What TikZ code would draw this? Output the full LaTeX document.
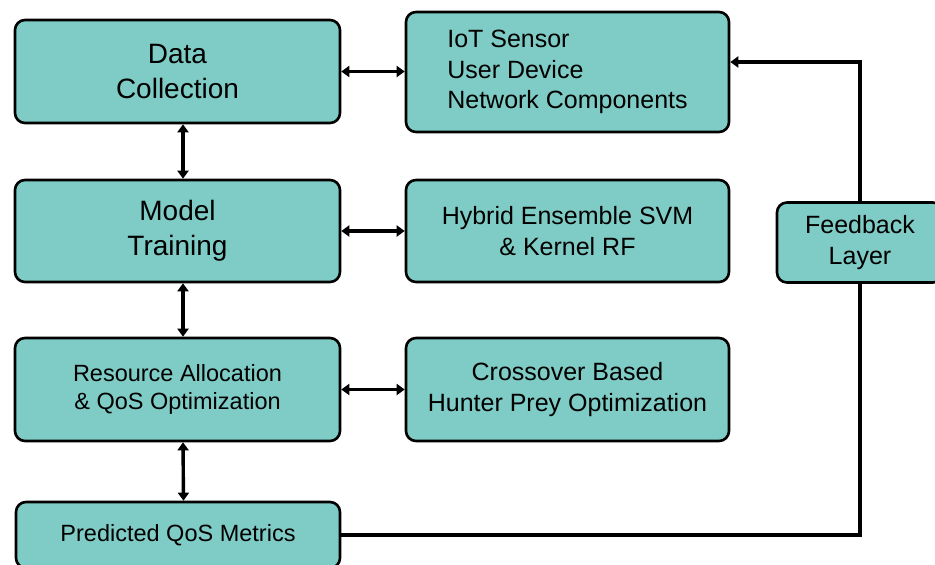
\documentclass[tikz,border=0pt]{standalone}
\usepackage{fontspec}
\setmainfont{Liberation Sans}
\usepackage{tikz}
\usetikzlibrary{arrows.meta}
\definecolor{boxteal}{RGB}{126,204,197}

\begin{document}
\begin{tikzpicture}[x=1pt,y=-1pt,line width=2.6pt]
   \useasboundingbox (0,0) rectangle (935,565);
   \tikzstyle{main}=[rectangle, rounded corners=10pt, draw=black, fill=boxteal, align=center, inner sep=0pt]
   \tikzstyle{big}=[font=\fontsize{28}{35}\selectfont]
   \tikzstyle{mid}=[font=\fontsize{25}{30.5}\selectfont]
   \tikzstyle{small}=[font=\fontsize{23.5}{28}\selectfont]
   \node[main,big,minimum width=325pt,minimum height=103pt] (collect) at (177.5,71.5) {Data\\Collection};
   \node[main,big,minimum width=325pt,minimum height=102pt] (train) at (177.5,231) {Model\\Training};
   \node[main,small,minimum width=325pt,minimum height=103pt] (alloc) at (177.5,389.5) {Resource Allocation\\\& QoS Optimization};
   \node[main,small,minimum width=324pt,minimum height=66pt] (predict) at (178,535) {Predicted QoS Metrics};
   \node[main,mid,align=left,minimum width=323pt,minimum height=120pt] (sources) at (567.5,72) {IoT Sensor\\User Device\\Network Components};
   \node[main,mid,minimum width=323pt,minimum height=102pt] (ensemble) at (567.5,231) {Hybrid Ensemble SVM\\\& Kernel RF};
   \node[main,mid,minimum width=323pt,minimum height=103pt] (hpo) at (567.5,389.5) {Crossover Based\\Hunter Prey Optimization};
   \node[main,mid,minimum width=166pt,minimum height=80pt] (feedback) at (860,242.5) {Feedback\\Layer};
   \tikzstyle{link}=[line width=3.4pt]
   \tikzstyle{both}=[link,arrows={Triangle[length=8pt,width=11pt]-Triangle[length=8pt,width=11pt]}]
   \draw[both] ([xshift=5.5pt]collect.south) -- ([xshift=5.5pt]train.north);
   \draw[both] ([xshift=5.5pt]train.south) -- ([xshift=5.5pt]alloc.north);
   \draw[both] ([xshift=5.5pt]alloc.south) -- ([xshift=5.5pt]predict.north);
   \draw[both] (collect.east) -- (collect.east -| sources.west);
   \draw[both] (train.east) -- (train.east -| ensemble.west);
   \draw[both] (alloc.east) -- (alloc.east -| hpo.west);
   \draw[link,arrows={-Triangle[length=8pt,width=11pt]}] (feedback.north) |- ([yshift=10pt]sources.east);
   \draw[link] (feedback.south) |- (predict.east);
\end{tikzpicture}
\end{document}
